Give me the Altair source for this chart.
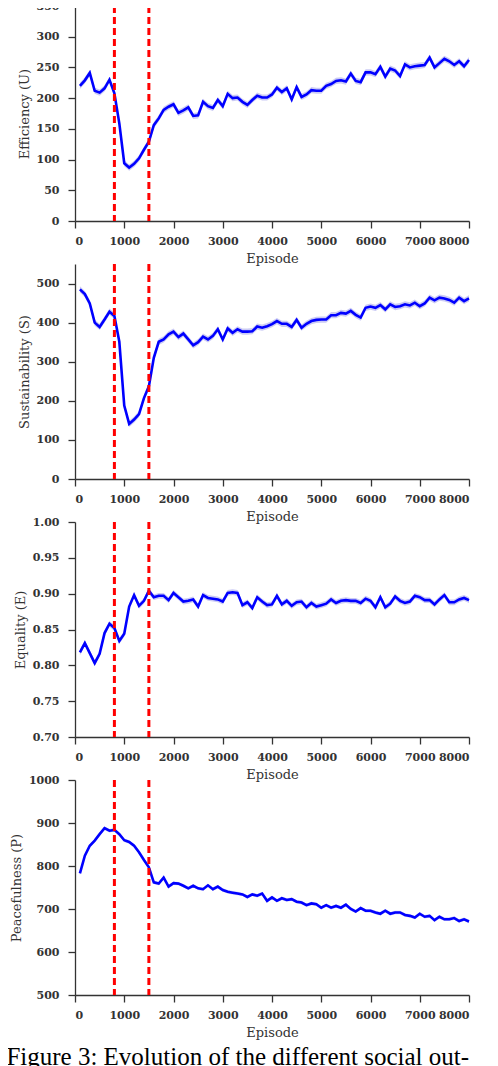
import altair as alt
import pandas as pd

episodes = list(range(100, 8001, 100))

efficiency = [
    220, 229, 241, 212, 209, 216, 230, 208, 159, 94,
    87, 93, 102, 116, 129, 156, 167, 181, 186, 190,
    176, 180, 185, 171, 172, 194, 187, 184, 197, 187,
    207, 200, 201, 194, 189, 197, 204, 201, 201, 206,
    217, 210, 216, 198, 218, 202, 206, 213, 212, 212,
    220, 223, 228, 229, 227, 240, 228, 226, 242, 242,
    239, 251, 235, 248, 245, 236, 255, 250, 252, 253,
    254, 266, 250, 257, 264, 260, 254, 260, 252, 262,
]

sustainability = [
    485, 473, 449, 400, 389, 408, 428, 417, 351, 188,
    141, 152, 166, 207, 237, 310, 351, 357, 370, 377,
    363, 372, 357, 342, 350, 364, 357, 366, 383, 357,
    385, 374, 383, 377, 377, 378, 390, 387, 391, 396,
    404, 397, 397, 389, 407, 387, 397, 404, 407, 408,
    408, 419, 419, 425, 423, 430, 420, 413, 438, 441,
    438, 445, 434, 447, 440, 442, 447, 444, 451, 442,
    449, 464, 457, 464, 462, 458, 451, 464, 455, 462,
]

equality = [
    0.818, 0.831, 0.817, 0.803, 0.816, 0.845, 0.858, 0.852, 0.834, 0.844,
    0.882, 0.898, 0.883, 0.890, 0.904, 0.895, 0.897, 0.897, 0.891, 0.901,
    0.895, 0.889, 0.890, 0.892, 0.882, 0.898, 0.894, 0.893, 0.892, 0.889,
    0.901, 0.902, 0.901, 0.884, 0.888, 0.880, 0.895, 0.889, 0.884, 0.885,
    0.897, 0.885, 0.890, 0.883, 0.888, 0.889, 0.881, 0.887, 0.882, 0.884,
    0.886, 0.892, 0.887, 0.890, 0.891, 0.890, 0.890, 0.887, 0.893, 0.890,
    0.881, 0.895, 0.881, 0.886, 0.896, 0.890, 0.887, 0.889, 0.897, 0.895,
    0.891, 0.891, 0.885, 0.892, 0.898, 0.888, 0.888, 0.892, 0.894, 0.891,
]

peacefulness = [
    783, 824, 847, 859, 874, 888, 882, 884, 874, 860,
    856, 847, 832, 814, 797, 762, 759, 773, 752, 760,
    759, 754, 748, 754, 748, 746, 755, 746, 752, 744,
    740, 738, 736, 734, 728, 734, 731, 736, 719, 727,
    719, 725, 721, 723, 717, 715, 709, 713, 711, 703,
    709, 703, 707, 703, 710, 700, 694, 702, 696, 696,
    692, 689, 696, 689, 692, 692, 686, 684, 680, 689,
    682, 684, 674, 682, 676, 676, 679, 672, 676, 671,
]

# half-width of the shaded band around each curve
band_half = {"U": 5, "S": 8, "E": 0.004, "P": 4}

phase_marks = [800, 1500]
x_ticks = list(range(0, 8001, 1000))

panels_spec = [
    (efficiency, "Efficiency (U)", [0, 350], list(range(0, 351, 50)), "d", band_half["U"]),
    (sustainability, "Sustainability (S)", [0, 550], list(range(0, 501, 100)), "d", band_half["S"]),
    (equality, "Equality (E)", [0.70, 1.00], [0.70, 0.75, 0.80, 0.85, 0.90, 0.95, 1.00], ".2f", band_half["E"]),
    (peacefulness, "Peacefulness (P)", [500, 1000], list(range(500, 1001, 100)), "d", band_half["P"]),
]


def make_panel(values, ytitle, ydomain, yticks, yfmt, half):
    df = pd.DataFrame({"Episode": episodes, "v": values})
    df["lo"] = df["v"] - half
    df["hi"] = df["v"] + half
    xenc = alt.X(
        "Episode:Q",
        scale=alt.Scale(domain=[0, 8000], nice=False, zero=False),
        axis=alt.Axis(values=x_ticks, format="d", title="Episode"),
    )
    yscale = alt.Scale(domain=ydomain, nice=False, zero=False)
    yaxis = alt.Axis(values=yticks, format=yfmt, title=ytitle)
    base = alt.Chart(df)
    band = base.mark_area(color="#a8a8ec", opacity=0.6).encode(
        x=xenc,
        y=alt.Y("lo:Q", scale=yscale, axis=yaxis),
        y2="hi:Q",
    )
    line = base.mark_line(color="#0000ff", strokeWidth=2.6).encode(
        x=xenc,
        y=alt.Y("v:Q", scale=yscale, axis=yaxis),
    )
    rules = alt.Chart(pd.DataFrame({"Episode": phase_marks})).mark_rule(
        color="#ff0000", strokeWidth=3, strokeDash=[7, 4]
    ).encode(x=xenc)
    return alt.layer(band, line, rules).properties(width=394, height=215)


panels = [make_panel(*spec) for spec in panels_spec]

chart = alt.vconcat(*panels, spacing=43, bounds="flush").properties(
    padding={"left": -2, "top": -8, "right": 0, "bottom": 0},
    title=alt.TitleParams(
        text="Figure 3:  Evolution of the different social out-",
        orient="bottom",
        anchor="start",
        font="Liberation Serif",
        fontSize=25,
        fontWeight="normal",
        color="#000000",
        offset=6,
        dx=-4,
    ),
).configure_axis(
    grid=False,
    domainColor="#333333",
    domainWidth=1.3,
    tickColor="#333333",
    tickWidth=1.3,
    tickSize=7,
    labelFont="DejaVu Serif",
    labelFontWeight="bold",
    labelFontSize=11,
    labelColor="#333333",
    titleFont="DejaVu Serif",
    titleFontWeight="normal",
    titleFontSize=13,
    titleColor="#333333",
).configure_axisY(
    labelPadding=9,
    titlePadding=5,
).configure_axisX(
    labelPadding=7,
    titlePadding=6,
).configure_view(
    stroke=None
)

chart.save("out.html", embed_options={"renderer": "svg", "actions": False})
